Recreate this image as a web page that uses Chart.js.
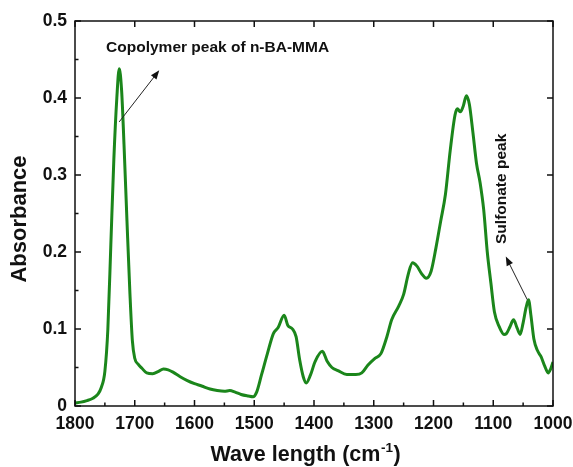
<!DOCTYPE html>
<html>
<head>
<meta charset="utf-8">
<script src="https://cdn.jsdelivr.net/npm/chart.js@4/dist/chart.umd.min.js"></script>
<style>
  html, body { margin: 0; padding: 0; background: #fff; }
  #wrap { width: 573px; height: 467px; }
</style>
</head>
<body>
<div id="wrap"><canvas id="ftirChart" width="573" height="467"></canvas></div>
<script>
// FTIR spectrum, wavenumber (cm-1) vs absorbance
const wavenumber = [
  1800, 1790, 1780, 1770, 1762, 1756, 1750, 1745, 1740, 1735, 1730, 1726, 1722, 1718, 1713, 1708,
  1704, 1700, 1694, 1688, 1680, 1670, 1660, 1652, 1644, 1636, 1624, 1612, 1600, 1588, 1574, 1562,
  1550, 1541, 1532, 1522, 1510, 1502, 1496, 1488, 1478, 1468, 1460, 1450, 1444, 1436, 1430, 1424,
  1418, 1413, 1406, 1398, 1386, 1378, 1370, 1360, 1345, 1330, 1320, 1310, 1298, 1288, 1278, 1270,
  1258, 1250, 1242, 1235, 1228, 1220, 1212, 1204, 1196, 1188, 1180, 1172, 1164, 1160, 1155, 1150,
  1145, 1140, 1134, 1128, 1122, 1116, 1110, 1104, 1098, 1090, 1082, 1078, 1072, 1066, 1060, 1055,
  1050, 1045, 1041, 1037, 1032, 1026, 1020, 1014, 1008, 1004, 1000
];
const absorbance = [
  0.004, 0.005, 0.007, 0.010, 0.015, 0.024, 0.045, 0.100, 0.210, 0.320, 0.400, 0.438, 0.410, 0.340, 0.240, 0.145,
  0.085, 0.062, 0.054, 0.049, 0.043, 0.042, 0.045, 0.048, 0.047, 0.044, 0.038, 0.033, 0.029, 0.026, 0.022, 0.020,
  0.019, 0.020, 0.018, 0.015, 0.013, 0.012, 0.018, 0.040, 0.068, 0.094, 0.102, 0.118, 0.105, 0.100, 0.090, 0.060,
  0.038, 0.030, 0.040, 0.058, 0.071, 0.058, 0.050, 0.046, 0.041, 0.041, 0.043, 0.053, 0.062, 0.068, 0.090, 0.112,
  0.130, 0.145, 0.172, 0.186, 0.182, 0.172, 0.166, 0.175, 0.205, 0.240, 0.275, 0.332, 0.378, 0.386, 0.382, 0.390,
  0.403, 0.392, 0.355, 0.315, 0.290, 0.255, 0.200, 0.160, 0.122, 0.103, 0.093, 0.094, 0.103, 0.112, 0.101, 0.093,
  0.108, 0.128, 0.138, 0.118, 0.087, 0.072, 0.064, 0.052, 0.043, 0.048, 0.057
];

const xTicks = [1800, 1700, 1600, 1500, 1400, 1300, 1200, 1100, 1000];
const xMinorTicks = [1750, 1650, 1550, 1450, 1350, 1250, 1150, 1050];
const yTicks = [0, 0.1, 0.2, 0.3, 0.4, 0.5];
const yMinorTicks = [0.05, 0.15, 0.25, 0.35, 0.45];

const noteLabels = ['Copolymer peak of n-BA-MMA', 'Sulfonate peak'];
const noteAnchor = [[1748, 0.465], [1086, 0.282]];
const arrowFrom = [[1726, 0.369], [1043, 0.138]];
const arrowTo = [[1659, 0.436], [1079, 0.194]];

const lineColor = '#1b861b';
const fontFamily = 'Arial, "Liberation Sans", sans-serif';
const tickFont = { family: fontFamily, size: 17.5, weight: 'bold' };

// frame, inward ticks, arrows and axis titles
const decorations = {
  id: 'decorations',
  afterDatasetsDraw(chart) {
    const { ctx, chartArea: a, scales: { x, y } } = chart;
    ctx.save();
    ctx.strokeStyle = '#111';
    ctx.lineWidth = 1.5;
    ctx.strokeRect(a.left, a.top, a.right - a.left, a.bottom - a.top);

    ctx.beginPath();
    xTicks.forEach(v => {
      const px = x.getPixelForValue(v);
      ctx.moveTo(px, a.bottom); ctx.lineTo(px, a.bottom - 6);
      ctx.moveTo(px, a.top); ctx.lineTo(px, a.top + 6);
    });
    xMinorTicks.forEach(v => {
      const px = x.getPixelForValue(v);
      ctx.moveTo(px, a.bottom); ctx.lineTo(px, a.bottom - 3.5);
    });
    yTicks.forEach(v => {
      const py = y.getPixelForValue(v);
      ctx.moveTo(a.left, py); ctx.lineTo(a.left + 6, py);
      ctx.moveTo(a.right, py); ctx.lineTo(a.right - 6, py);
    });
    yMinorTicks.forEach(v => {
      const py = y.getPixelForValue(v);
      ctx.moveTo(a.left, py); ctx.lineTo(a.left + 3.5, py);
    });
    ctx.stroke();

    // annotation arrows
    ctx.strokeStyle = '#222';
    ctx.fillStyle = '#111';
    ctx.lineWidth = 1;
    arrowFrom.forEach((p, i) => {
      const x0 = x.getPixelForValue(p[0]), y0 = y.getPixelForValue(p[1]);
      const x1 = x.getPixelForValue(arrowTo[i][0]), y1 = y.getPixelForValue(arrowTo[i][1]);
      const ang = Math.atan2(y1 - y0, x1 - x0);
      ctx.beginPath();
      ctx.moveTo(x0, y0);
      ctx.lineTo(x1 - 6 * Math.cos(ang), y1 - 6 * Math.sin(ang));
      ctx.stroke();
      ctx.beginPath();
      ctx.moveTo(x1, y1);
      ctx.lineTo(x1 - 9 * Math.cos(ang) + 3.5 * Math.sin(ang), y1 - 9 * Math.sin(ang) - 3.5 * Math.cos(ang));
      ctx.lineTo(x1 - 9 * Math.cos(ang) - 3.5 * Math.sin(ang), y1 - 9 * Math.sin(ang) + 3.5 * Math.cos(ang));
      ctx.closePath();
      ctx.fill();
    });

    ctx.fillStyle = '#111';
    ctx.font = 'bold 15.5px ' + fontFamily;
    ctx.textBaseline = 'middle';
    ctx.textAlign = 'left';
    ctx.fillText(noteLabels[0], x.getPixelForValue(noteAnchor[0][0]), y.getPixelForValue(noteAnchor[0][1]));
    ctx.save();
    ctx.translate(x.getPixelForValue(noteAnchor[1][0]), y.getPixelForValue(noteAnchor[1][1]));
    ctx.rotate(-Math.PI / 2);
    ctx.textAlign = 'center';
    ctx.fillText(noteLabels[1], 0, 0);
    ctx.restore();

    // axis titles
    ctx.font = 'bold 22px ' + fontFamily;
    ctx.save();
    ctx.translate(20, 219);
    ctx.rotate(-Math.PI / 2);
    ctx.textAlign = 'center';
    ctx.fillText('Absorbance', 0, 0);
    ctx.restore();

    const main = 'Wave length (cm', sup = '-1', tail = ')';
    const mainFont = 'bold 21.5px ' + fontFamily;
    const supFont = 'bold 13.5px ' + fontFamily;
    ctx.font = mainFont;
    const w1 = ctx.measureText(main).width, w3 = ctx.measureText(tail).width;
    ctx.font = supFont;
    const w2 = ctx.measureText(sup).width;
    const tx = 305 - (w1 + w2 + w3) / 2;
    const ty = 455;
    ctx.textAlign = 'left';
    ctx.font = mainFont;
    ctx.fillText(main, tx, ty);
    ctx.font = supFont;
    ctx.fillText(sup, tx + w1 + 0.5, ty - 7);
    ctx.font = mainFont;
    ctx.fillText(tail, tx + w1 + w2 + 1, ty);
    ctx.restore();
  }
};

const points = wavenumber.map((w, i) => ({ x: w, y: absorbance[i] }));

new Chart(document.getElementById('ftirChart'), {
  type: 'line',
  data: {
    datasets: [{
      data: points,
      borderColor: lineColor,
      borderWidth: 3,
      pointRadius: 0,
      cubicInterpolationMode: 'monotone',
      fill: false
    }]
  },
  options: {
    responsive: false,
    animation: false,
    layout: { padding: { top: 21, right: 20, left: 0, bottom: 0 } },
    plugins: { legend: { display: false }, tooltip: { enabled: false } },
    scales: {
      x: {
        type: 'linear',
        reverse: true,
        min: 1000,
        max: 1800,
        afterBuildTicks: s => { s.ticks = xTicks.map(v => ({ value: v })); },
        afterFit: s => { s.height = 61; s.paddingLeft = 0; s.paddingRight = 0; },
        grid: { display: false, drawTicks: false },
        border: { display: false },
        ticks: {
          color: '#111', font: tickFont, padding: 8, maxRotation: 0, autoSkip: false,
          callback: v => String(v)
        }
      },
      y: {
        min: 0,
        max: 0.5,
        afterBuildTicks: s => { s.ticks = yTicks.map(v => ({ value: v })); },
        afterFit: s => { s.width = 75; s.paddingTop = 0; s.paddingBottom = 0; },
        grid: { display: false, drawTicks: false },
        border: { display: false },
        ticks: {
          color: '#111', font: tickFont, padding: 8,
          callback: v => (v === 0 ? '0' : v.toFixed(1))
        }
      }
    }
  },
  plugins: [decorations]
});
</script>
</body>
</html>
